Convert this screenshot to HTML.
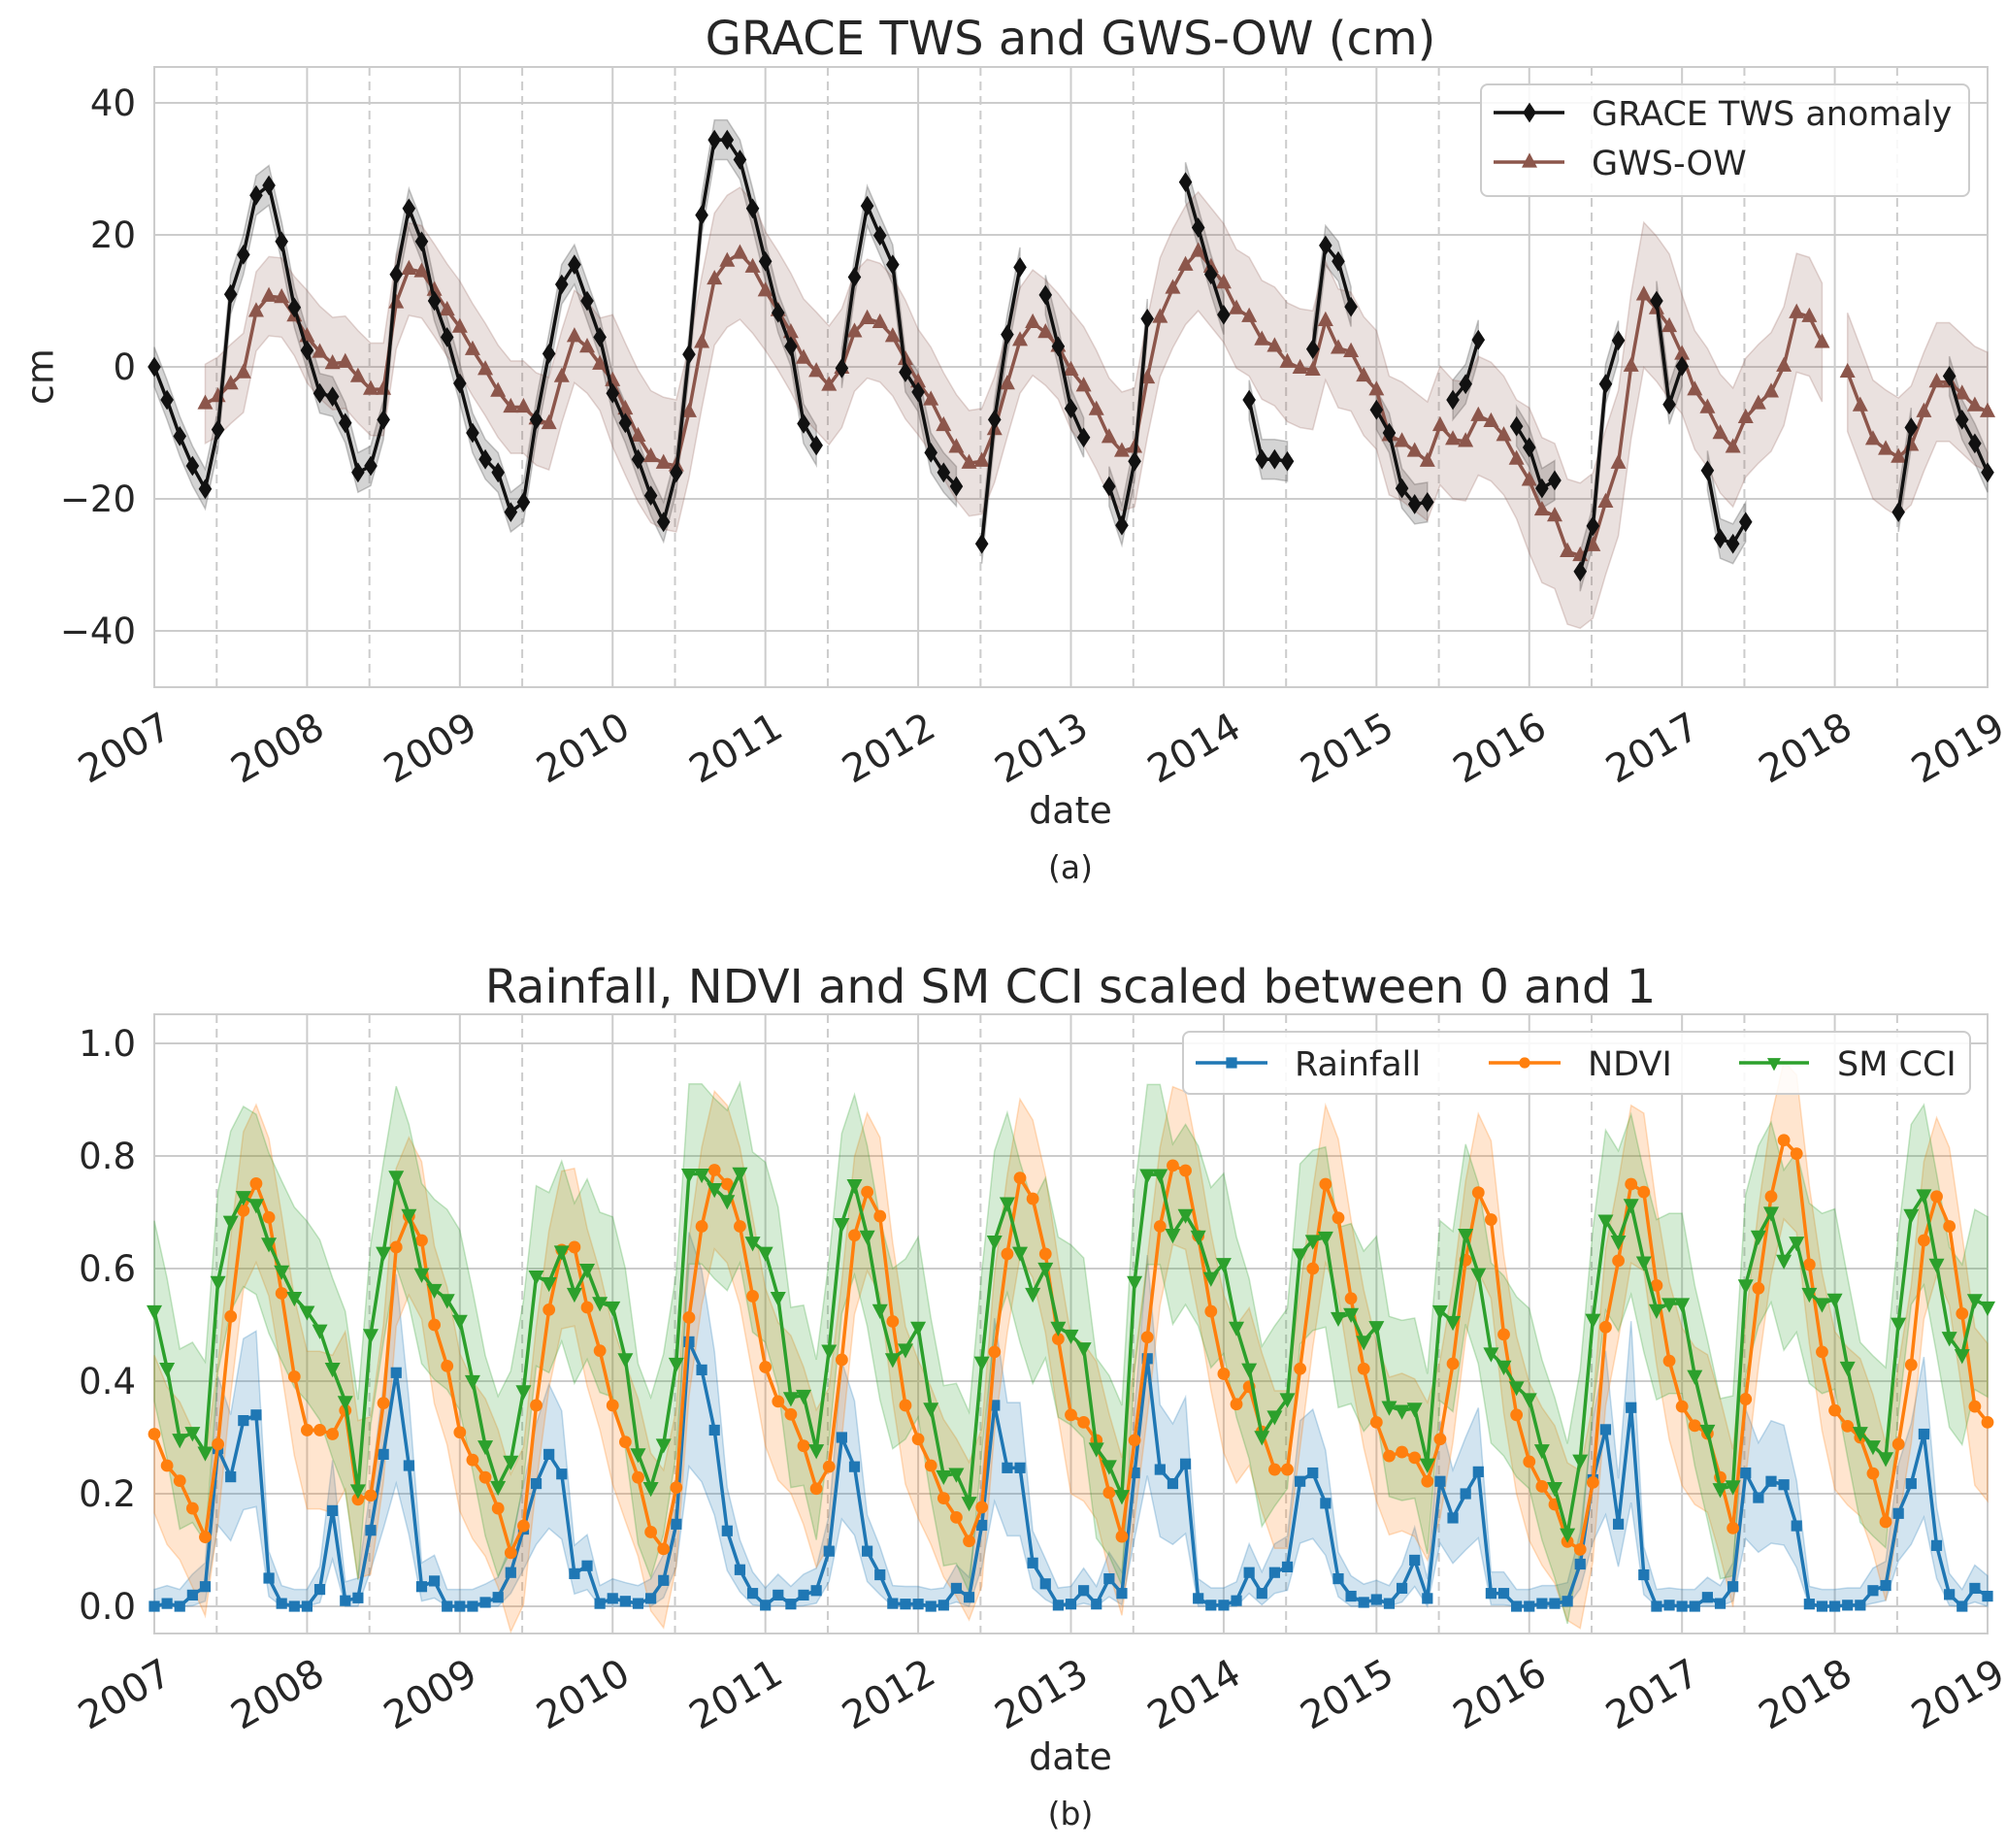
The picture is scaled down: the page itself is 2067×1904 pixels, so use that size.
<!DOCTYPE html>
<html><head><meta charset="utf-8"><style>
html,body{margin:0;padding:0;background:#fff}
svg{display:block;font-family:"DejaVu Sans","Liberation Sans",sans-serif}
</style></head><body>
<svg id="fig" width="2067" height="1904" viewBox="0 0 2067 1904" xmlns="http://www.w3.org/2000/svg"></svg>
<script>
const years = ["2007","2008","2009","2010","2011","2012","2013","2014","2015","2016","2017","2018","2019"];
const yTicksA = [40,20,0,-20,-40];
const yTicksB = [0.0,0.2,0.4,0.6,0.8,1.0];
const graceValues = [0,-5,-10.5,-15,-18.5,-9.5,11,17,26,27.5,19,9,2.5,-4,-4.5,-8.5,-16,-15,-8,14,24,19,10,4.5,-2.5,-10,-14,-16,-22,-20.5,-8,2,12.5,15.5,10,4.5,-4,-8.5,-14,-19.5,-23.5,-16,1.9,23,34.4,34.4,31.4,24,16,8.2,3.1,-8.6,-11.9,null,-0.2,13.6,24.4,19.9,15.5,-0.8,-3.8,-13,-16,-18.1,null,-26.8,-8,4.9,15.1,null,10.9,3.1,-6.3,-10.7,null,-18.1,-24,-14.3,7.3,null,null,28,21.1,14,7.9,null,-5,-14,-14,-14.3,null,2.7,18.4,16,9.1,null,-6.5,-10,-18.4,-20.8,-20.5,null,-5,-2.6,4.1,null,null,-9,-12.2,-18.4,-17.2,null,-31,-24.1,-2.6,4,null,null,10,-5.7,0.1,null,-15.7,-26,-26.8,-23.5,null,null,null,null,null,null,null,null,null,null,null,-22,-9.2,null,null,-1.4,-8,-11.6,-16];
const gwsValues = [null,null,null,null,-5.6,-4.5,-2.6,-0.9,8.4,10.7,10.5,7.7,4.6,2.2,0.5,0.7,-1.5,-3.4,-3.4,9.7,14.8,14.4,11.6,8.6,6,2.6,-0.4,-3.7,-6.1,-6.1,-7.9,-8.6,-1.5,4.6,3,0.4,-2.1,-6.4,-10.5,-13.6,-14.6,-15,-6.8,3.7,13.3,16,17.2,15.1,11.5,8.5,5.2,1.3,-0.7,-2.8,-0.2,5.3,7.3,6.7,4.6,1.1,-2.3,-5,-8.9,-12.2,-14.6,-14.3,-9.5,-2.6,4,6.7,5.2,3.1,-0.5,-2.9,-6.5,-10.7,-12.8,-12.2,-1.7,7.5,11.9,15.4,17.5,15.1,12.7,8.8,7.6,4.1,3.1,0.7,-0.2,-0.5,7,2.8,2.3,-1.4,-3.5,-10.4,-11.3,-12.8,-14.3,-8.9,-11,-11.3,-7.4,-8.3,-10.4,-14,-17.2,-21.7,-22.6,-28,-28.6,-27.1,-20.5,-14.6,0.1,10.9,8.8,6.1,1.9,-3.5,-6.2,-10.1,-12.2,-7.7,-5.6,-3.8,0.1,8.2,7.6,3.7,null,-0.8,-5.9,-11,-12.5,-13.7,-11.9,-6.8,-2.3,-2.3,-4.1,-5.9,-6.8];
const gwsSpreadByYear = [6,7,7,10,9,8,9,9,9,11,9,9,9];
const rainValues = [0,0.005,0,0.02,0.035,0.28,0.23,0.33,0.34,0.05,0.005,0,0,0.03,0.17,0.01,0.015,0.135,0.27,0.415,0.25,0.035,0.045,0,0,0,0.007,0.016,0.06,0.137,0.218,0.27,0.235,0.058,0.072,0.005,0.014,0.009,0.005,0.014,0.046,0.146,0.47,0.42,0.313,0.134,0.065,0.023,0.002,0.02,0.004,0.02,0.028,0.098,0.3,0.248,0.098,0.056,0.005,0.004,0.004,0,0.002,0.032,0.016,0.144,0.357,0.246,0.246,0.077,0.04,0.002,0.004,0.028,0.004,0.049,0.023,0.237,0.44,0.243,0.218,0.253,0.014,0.002,0.002,0.01,0.06,0.023,0.06,0.07,0.222,0.237,0.183,0.049,0.018,0.007,0.012,0.005,0.032,0.082,0.014,0.222,0.157,0.2,0.239,0.023,0.023,0,0,0.005,0.005,0.009,0.075,0.225,0.314,0.146,0.353,0.056,0,0.002,0,0,0.016,0.005,0.035,0.237,0.193,0.222,0.216,0.143,0.004,0,0,0.002,0.002,0.028,0.037,0.165,0.218,0.306,0.108,0.021,0,0.032,0.018];
const ndviValues = [0.306,0.25,0.223,0.174,0.123,0.288,0.515,0.703,0.751,0.691,0.556,0.408,0.313,0.313,0.306,0.348,0.19,0.197,0.361,0.638,0.693,0.65,0.5,0.427,0.309,0.26,0.229,0.174,0.095,0.143,0.357,0.527,0.633,0.638,0.531,0.454,0.357,0.292,0.229,0.132,0.102,0.211,0.513,0.675,0.775,0.75,0.675,0.551,0.425,0.364,0.341,0.285,0.209,0.248,0.438,0.659,0.736,0.693,0.506,0.357,0.297,0.25,0.192,0.158,0.116,0.176,0.452,0.626,0.761,0.724,0.626,0.475,0.34,0.327,0.295,0.202,0.124,0.295,0.478,0.675,0.783,0.774,0.658,0.524,0.413,0.359,0.39,0.31,0.243,0.243,0.422,0.6,0.75,0.69,0.547,0.422,0.327,0.267,0.274,0.264,0.222,0.297,0.431,0.615,0.735,0.687,0.483,0.34,0.257,0.213,0.181,0.115,0.101,0.22,0.496,0.614,0.75,0.736,0.57,0.436,0.355,0.321,0.307,0.229,0.139,0.368,0.565,0.728,0.828,0.804,0.607,0.452,0.348,0.32,0.3,0.236,0.15,0.288,0.429,0.65,0.728,0.675,0.52,0.355,0.327];
const smValues = [0.525,0.423,0.297,0.309,0.274,0.577,0.684,0.728,0.714,0.645,0.596,0.549,0.524,0.491,0.423,0.364,0.207,0.483,0.629,0.764,0.696,0.591,0.563,0.545,0.508,0.401,0.285,0.213,0.258,0.383,0.587,0.575,0.631,0.556,0.599,0.54,0.532,0.44,0.271,0.211,0.288,0.432,0.768,0.768,0.742,0.721,0.77,0.647,0.629,0.549,0.371,0.375,0.278,0.455,0.68,0.749,0.658,0.527,0.44,0.457,0.496,0.352,0.232,0.236,0.185,0.434,0.649,0.717,0.629,0.556,0.601,0.496,0.482,0.459,0.281,0.25,0.197,0.577,0.767,0.767,0.661,0.696,0.658,0.584,0.609,0.496,0.422,0.302,0.338,0.369,0.626,0.65,0.656,0.513,0.52,0.471,0.497,0.355,0.348,0.352,0.253,0.525,0.506,0.661,0.591,0.45,0.427,0.39,0.369,0.278,0.211,0.129,0.26,0.51,0.686,0.649,0.714,0.612,0.527,0.538,0.538,0.41,0.313,0.209,0.214,0.571,0.658,0.7,0.615,0.647,0.556,0.538,0.546,0.425,0.309,0.285,0.264,0.503,0.696,0.731,0.608,0.478,0.447,0.545,0.532];

const NS='http://www.w3.org/2000/svg';
const svg=document.getElementById('fig');
function el(tag,attrs,parent){const e=document.createElementNS(NS,tag);for(const k in attrs)e.setAttribute(k,attrs[k]);(parent||svg).appendChild(e);return e;}
const L=159,R=2048,PM=(R-L)/144;
const xM=m=>L+m*PM;
const A={top:69,bottom:708,y:v=>378-v*6.8};
const B={top:1045,bottom:1683,y:v=>1655-v*580};

function axes(P,ticks,fmt,name){
  const g=el('g',{});
  
  
  ticks.forEach(t=>{
    const y=P.y(t);
    const ln=el('line',{x1:L,x2:R,y1:y,y2:y,stroke:'#cccccc','stroke-width':2},g);
    
    
    const tx=el('text',{x:140,y:y+13,'text-anchor':'end','font-size':37,fill:'#262626'},g);
    tx.textContent=fmt(t);
    
    
  });
  years.forEach((yr,i)=>{
    const x=xM(i*12);
    const ln=el('line',{x1:x,x2:x,y1:P.top,y2:P.bottom,stroke:'#cccccc','stroke-width':2},g);
    
    
    const tx=el('text',{transform:`translate(${x+6},${P.bottom+24}) rotate(-30)`,'text-anchor':'end','dominant-baseline':'hanging','font-size':40,fill:'#262626'},g);
    tx.textContent=yr;
    
    
    if(i<12){
      const xd=xM(i*12+4.9);
      const d=el('line',{x1:xd,x2:xd,y1:P.top,y2:P.bottom,stroke:'#cccccc','stroke-width':2,'stroke-dasharray':'9,6'},g);
      
      
    }
  });
  const fr=el('rect',{x:L,y:P.top,width:R-L,height:P.bottom-P.top,fill:'none',stroke:'#cccccc','stroke-width':2},g);
  
  
}
function segments(vals){const segs=[];let cur=[];vals.forEach((v,m)=>{if(v===null){if(cur.length)segs.push(cur);cur=[];}else cur.push(m);});if(cur.length)segs.push(cur);return segs;}
function band(vals,lo,hi,P,color,op,name){
  segments(vals).forEach(s=>{
    let d='';
    s.forEach((m,i)=>{d+=(i?'L':'M')+xM(m)+','+P.y(hi(vals[m],m));});
    for(let i=s.length-1;i>=0;i--){const m=s[i];d+='L'+xM(m)+','+P.y(lo(vals[m],m));}
    const p=el('path',{d:d+'Z',fill:color,'fill-opacity':op,stroke:color,'stroke-opacity':op*1.3,'stroke-width':1.5});
    
    
  });
}
function marker(type,x,y,color,g,s){
  let e;
  if(type==='d')e=el('polygon',{points:`${x},${y-s*1.3} ${x+s*0.85},${y} ${x},${y+s*1.3} ${x-s*0.85},${y}`,fill:color},g);
  else if(type==='^')e=el('polygon',{points:`${x},${y-s*1.2} ${x+s},${y+s*0.7} ${x-s},${y+s*0.7}`,fill:color},g);
  else if(type==='v')e=el('polygon',{points:`${x},${y+s*1.2} ${x+s},${y-s*0.7} ${x-s},${y-s*0.7}`,fill:color},g);
  else if(type==='s')e=el('rect',{x:x-s*0.8,y:y-s*0.8,width:s*1.6,height:s*1.6,fill:color},g);
  else e=el('circle',{cx:x,cy:y,r:s*0.8,fill:color},g);
  return e;
}
function series(vals,P,color,type,name,s){
  const g=el('g',{});
  
  
  segments(vals).forEach(sg=>{
    const pts=sg.map(m=>xM(m)+','+P.y(vals[m])).join(' ');
    const pl=el('polyline',{points:pts,fill:'none',stroke:color,'stroke-width':3.5,'stroke-linejoin':'round'},g);
    
    
  });
  vals.forEach((v,m)=>{if(v===null)return;
    const mk=marker(type,xM(m),P.y(v),color,g,s);
    
    
  });
}
function text(x,y,str,size,name,extra){
  const t=el('text',Object.assign({x:x,y:y,'font-size':size,fill:'#262626','text-anchor':'middle'},extra||{}));
  t.textContent=str;
  
  
  return t;
}

// Panel A
axes(A,yTicksA,t=>t<0?'\u2212'+(-t):String(t),'panel-a');
band(graceValues,v=>v-3,v=>v+3,A,'#555555',0.25,'grace-uncertainty-band');
band(gwsValues,(v,m)=>v-gwsSpreadByYear[Math.floor(m/12)],(v,m)=>v+gwsSpreadByYear[Math.floor(m/12)],A,'#8c564b',0.18,'gws-uncertainty-band');
series(gwsValues,A,'#8c564b','^','gws-ow',8);
series(graceValues,A,'#111111','d','grace-tws',8);
text(1103,56,'GRACE TWS and GWS-OW (cm)',48,'panel-a-title');
text(44,388,'cm',38,'y-axis-title',{transform:'rotate(-90 44 388)','dominant-baseline':'middle'});
text(1103,848,'date',38,'x-axis-title-a');
text(1103,905,'(a)',33,'panel-a-caption');
// legend A
{const g=el('g',{});
 el('rect',{x:1526,y:87,width:503,height:115,rx:7,fill:'#ffffff','fill-opacity':0.85,stroke:'#cccccc','stroke-width':2},g);
 const items=[['GRACE TWS anomaly','#111111','d',116],['GWS-OW','#8c564b','^',167]];
 items.forEach(it=>{
  const e=el('g',{},g);
  el('line',{x1:1539,x2:1612,y1:it[3],y2:it[3],stroke:it[1],'stroke-width':3.5},e);
  marker(it[2],1576,it[3],it[1],e,8);
  const t=el('text',{x:1640,y:it[3]+13,'font-size':35,fill:'#262626'},e);t.textContent=it[0];
 });}

// Panel B
axes(B,yTicksB,t=>t.toFixed(1),'panel-b');
band(rainValues,v=>Math.max(0,v*0.55-0.01),v=>v*1.35+0.03,B,'#1f77b4',0.2,'rainfall-band');
band(ndviValues,v=>v-0.14,v=>v+0.14,B,'#ff7f0e',0.2,'ndvi-band');
band(smValues,v=>v-0.16,v=>v+0.16,B,'#2ca02c',0.2,'sm-cci-band');
series(rainValues,B,'#1f77b4','s','rainfall',7);
series(ndviValues,B,'#ff7f0e','o',  'ndvi',8);
series(smValues,B,'#2ca02c','v','sm-cci',8);
text(1103,1033,'Rainfall, NDVI and SM CCI scaled between 0 and 1',48,'panel-b-title');
text(1103,1823,'date',38,'x-axis-title-b');
text(1103,1880,'(b)',33,'panel-b-caption');
{const g=el('g',{});
 el('rect',{x:1219,y:1063,width:811,height:64,rx:7,fill:'#ffffff','fill-opacity':0.85,stroke:'#cccccc','stroke-width':2},g);
 const items=[['Rainfall','#1f77b4','s',1232,1306,1334],['NDVI','#ff7f0e','o',1534,1608,1636],['SM CCI','#2ca02c','v',1792,1864,1893]];
 items.forEach(it=>{
  const e=el('g',{},g);
  el('line',{x1:it[3],x2:it[4],y1:1095,y2:1095,stroke:it[1],'stroke-width':3.5},e);
  marker(it[2],(it[3]+it[4])/2,1095,it[1],e,7);
  const t=el('text',{x:it[5],y:1108,'font-size':35,fill:'#262626'},e);t.textContent=it[0];
 });}
</script>
</body></html>
